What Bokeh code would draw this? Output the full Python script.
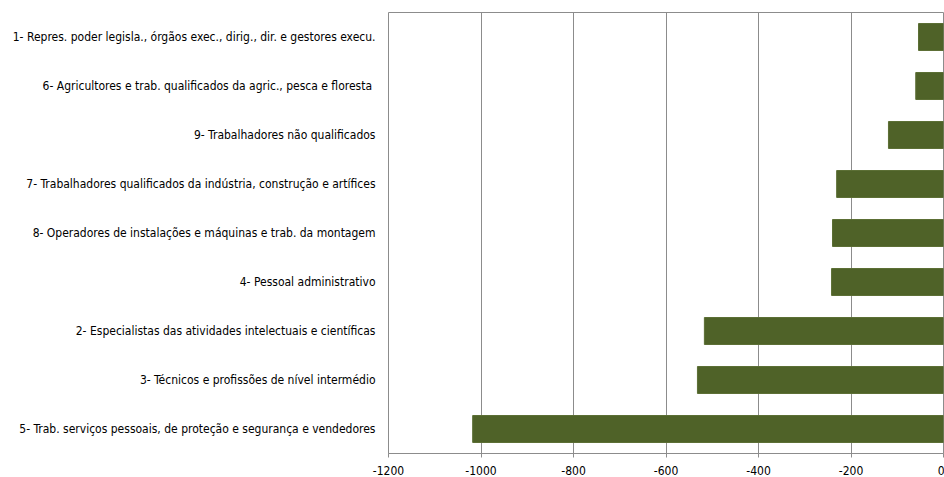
from bokeh.plotting import figure
from bokeh.models import Range1d, FactorRange, FixedTicker
from bokeh.embed import file_html
from bokeh.resources import INLINE

categories = [
    "1- Repres. poder legisla., órgãos exec., dirig., dir. e gestores execu.",
    "6- Agricultores e trab. qualificados da agric.,  pesca e floresta",
    "9- Trabalhadores não qualificados",
    "7- Trabalhadores qualificados da indústria, construção e artífices",
    "8- Operadores de instalações e máquinas e trab. da montagem",
    "4- Pessoal administrativo",
    "2- Especialistas das atividades intelectuais e científicas",
    "3- Técnicos e profissões de nível intermédio",
    "5- Trab. serviços pessoais, de proteção e segurança e vendedores",
]
values = [-54, -60, -119, -231, -240, -242, -517, -532, -1018]
x_ticks = [-1200, -1000, -800, -600, -400, -200, 0]

FONT = "'DejaVu Sans Condensed', 'Liberation Sans Narrow', 'Roboto', sans-serif"
GRID = "#8c8c8c"

p = figure(
    width=944, height=477,
    y_range=FactorRange(factors=list(reversed(categories))),
    x_range=Range1d(-1200, 0),
    output_backend="svg", toolbar_location=None,
    min_border_left=388, min_border_right=1, min_border_top=12, min_border_bottom=24,
)

p.hbar(y=categories, left=values, right=0, height=0.55,
       fill_color="#4F6228", line_color="#5b6e34", line_width=1)

p.xaxis.ticker = FixedTicker(ticks=x_ticks)
p.xaxis.major_label_overrides = {t: str(t) for t in x_ticks}
p.xaxis.axis_line_color = GRID
p.xaxis.major_tick_line_color = GRID
p.xaxis.major_tick_out = 4
p.xaxis.major_tick_in = 0
p.xaxis.minor_tick_line_color = None
p.xaxis.major_label_text_font = FONT
p.xaxis.major_label_text_font_size = "12px"
p.xaxis.major_label_text_color = "#000000"
p.xaxis.major_label_standoff = 8

p.yaxis.axis_line_color = None
p.yaxis.major_tick_line_color = None
p.yaxis.minor_tick_line_color = None
p.yaxis.major_label_text_font = FONT
p.yaxis.major_label_text_font_size = "12px"
p.yaxis.major_label_text_color = "#000000"
p.yaxis.major_label_standoff = 7

p.xgrid.grid_line_color = GRID
p.ygrid.grid_line_color = None
p.outline_line_color = GRID
p.outline_line_width = 1
p.background_fill_color = "white"
p.border_fill_color = "white"

open("out.html", "w").write(file_html(p, INLINE))
